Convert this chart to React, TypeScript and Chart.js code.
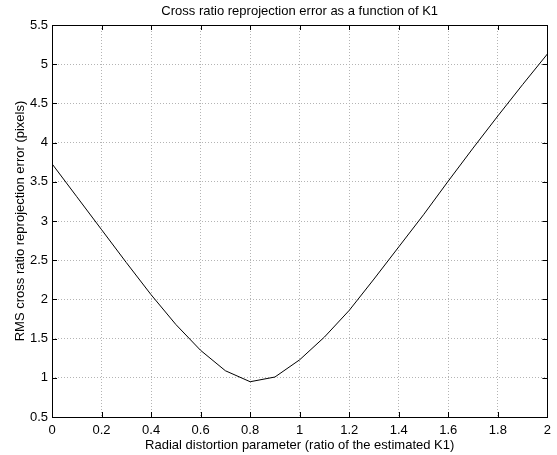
import React, { useEffect, useRef } from "react";
import { Chart, registerables } from "chart.js";

Chart.register(...registerables);

const k1Ratio = [0, 0.1, 0.2, 0.3, 0.4, 0.5, 0.6, 0.7, 0.8, 0.9, 1.0, 1.1, 1.2, 1.3, 1.4, 1.5, 1.6, 1.7, 1.8, 1.9, 2.0];
const rmsError = [3.73, 3.31, 2.89, 2.47, 2.06, 1.68, 1.35, 1.09, 0.95, 1.01, 1.23, 1.52, 1.86, 2.26, 2.67, 3.08, 3.51, 3.93, 4.34, 4.74, 5.13];

const titleText = "Cross ratio reprojection error as a function of K1";
const xTitle = "Radial distortion parameter (ratio of the estimated K1)";
const yTitle = "RMS cross ratio reprojection error (pixels)";

const FONT = "'Liberation Sans', Arial, Helvetica, sans-serif";
const FS = 13;

const boxPlugin = {
  id: "matlabBox",
  afterDatasetsDraw(chart: any) {
    const { ctx, chartArea, scales } = chart;
    const { left, right, top, bottom } = chartArea;
    const tl = 5;
    ctx.save();
    ctx.strokeStyle = "#000";
    ctx.lineWidth = 1;
    ctx.beginPath();
    scales.x.ticks.forEach((t: any) => {
      const px = Math.round(scales.x.getPixelForValue(t.value)) + 0.5;
      ctx.moveTo(px, bottom);
      ctx.lineTo(px, bottom - tl);
      ctx.moveTo(px, top);
      ctx.lineTo(px, top + tl);
    });
    scales.y.ticks.forEach((t: any) => {
      const py = Math.round(scales.y.getPixelForValue(t.value)) + 0.5;
      ctx.moveTo(left, py);
      ctx.lineTo(left + tl, py);
      ctx.moveTo(right, py);
      ctx.lineTo(right - tl, py);
    });
    ctx.stroke();
    ctx.strokeRect(Math.round(left) + 0.5, Math.round(top) + 0.5, Math.round(right - left), Math.round(bottom - top));
    // title centred over the plot area
    ctx.fillStyle = "#000";
    ctx.font = `${FS}px ${FONT}`;
    ctx.textAlign = "center";
    ctx.textBaseline = "middle";
    ctx.fillText(titleText, (left + right) / 2, 11.5);
    ctx.restore();
  },
};

export default function App() {
  const ref = useRef<HTMLCanvasElement | null>(null);
  useEffect(() => {
    if (!ref.current) return;
    const fmt = (v: any) => String(Number(Number(v).toFixed(1)));
    const chart = new Chart(ref.current, {
      type: "line",
      data: {
        datasets: [
          {
            data: k1Ratio.map((x, i) => ({ x, y: rmsError[i] })),
            borderColor: "#000",
            borderWidth: 1,
            pointRadius: 0,
            tension: 0,
            fill: false,
          },
        ],
      },
      options: {
        animation: false,
        responsive: false,
        maintainAspectRatio: false,
        layout: { padding: { left: 0, right: 9, top: 25, bottom: 0 } },
        plugins: {
          legend: { display: false },
          tooltip: { enabled: false },
          title: { display: false },
        },
        scales: {
          x: {
            type: "linear",
            min: 0,
            max: 2,
            afterFit: (s: any) => {
              s.height = 38;
            },
            ticks: {
              stepSize: 0.2,
              color: "#000",
              padding: 6,
              font: { family: FONT, size: FS },
              callback: fmt,
              maxRotation: 0,
            },
            grid: { color: "#b4b4b4", drawTicks: false, lineWidth: 1 },
            border: { display: false, dash: [1, 2] },
            title: {
              display: true,
              text: xTitle,
              color: "#000",
              font: { family: FONT, size: FS },
              padding: { top: 0, bottom: 2 },
            },
          },
          y: {
            type: "linear",
            min: 0.5,
            max: 5.5,
            afterFit: (s: any) => {
              s.width = 52;
            },
            ticks: {
              stepSize: 0.5,
              color: "#000",
              padding: 4,
              font: { family: FONT, size: FS },
              callback: fmt,
            },
            grid: { color: "#b4b4b4", drawTicks: false, lineWidth: 1 },
            border: { display: false, dash: [1, 2] },
            title: {
              display: true,
              text: yTitle,
              color: "#000",
              font: { family: FONT, size: FS },
              padding: { top: 12.5, bottom: 0 },
            },
          },
        },
      },
      plugins: [boxPlugin],
    } as any);
    return () => chart.destroy();
  }, []);
  return (
    <div style={{ position: "fixed", left: 0, top: 0, width: 557, height: 455, background: "#fff" }}>
      <canvas ref={ref} width={557} height={455} style={{ width: 557, height: 455, display: "block" }} />
    </div>
  );
}
